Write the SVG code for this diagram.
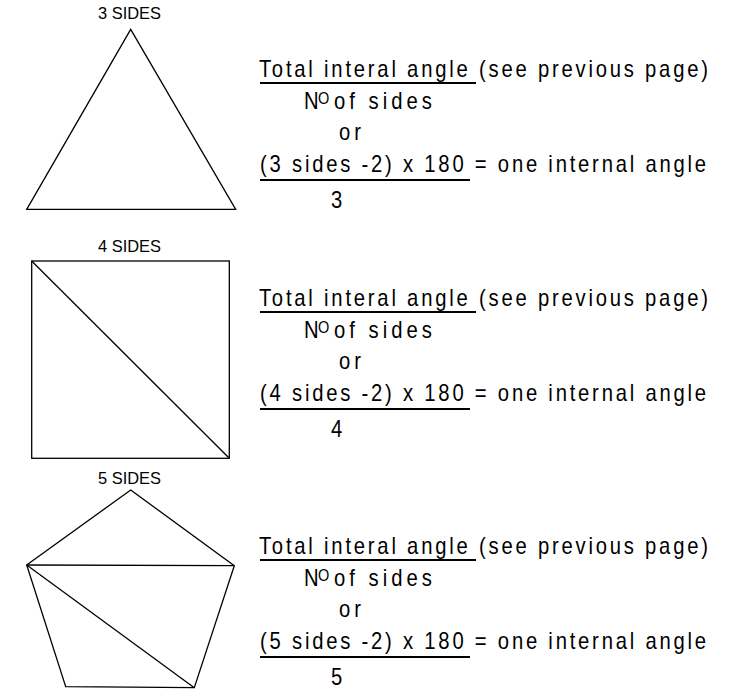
<svg xmlns="http://www.w3.org/2000/svg" width="750" height="698" viewBox="0 0 750 698">
<style>
.shape{fill:none;stroke:#000;stroke-width:1.3;stroke-linejoin:miter}
.t{font-family:"Liberation Sans",Arial,sans-serif;font-size:23px;fill:#000}
.sup{font-size:16.5px}
.lbl{font-family:"Liberation Sans",Arial,sans-serif;font-size:16px;fill:#000}
.ul{stroke:#000;stroke-width:2}
</style>
<rect x="0" y="0" width="750" height="698" fill="#fff"/>

<g id="triangle">
  <text class="lbl" transform="scale(0.8 1)" x="122.5" y="19.5" textLength="78.75" lengthAdjust="spacingAndGlyphs">3 SIDES</text>
  <polygon class="shape" points="130.7,29.3 235.7,209.3 26.7,209.3"/>
</g>

<g id="square">
  <text class="lbl" transform="scale(0.8 1)" x="122.5" y="252.5" textLength="78.75" lengthAdjust="spacingAndGlyphs">4 SIDES</text>
  <rect class="shape" x="31.7" y="261" width="197.6" height="197.3"/>
  <line class="shape" x1="31.7" y1="261" x2="229.3" y2="458.3"/>
</g>

<g id="pentagon">
  <text class="lbl" transform="scale(0.8 1)" x="122.5" y="484.3" textLength="78.75" lengthAdjust="spacingAndGlyphs">5 SIDES</text>
  <polygon class="shape" points="130.7,490 234.3,565.7 194.3,687.7 65.7,686.7 26.7,565"/>
  <line class="shape" x1="26.7" y1="565" x2="234.3" y2="565.7"/>
  <line class="shape" x1="26.7" y1="565" x2="194.3" y2="687.7"/>
</g>

<g id="formula-3">
  <line class="ul" x1="260" y1="83" x2="476" y2="83"/>
  <line class="ul" x1="260" y1="180" x2="470" y2="180"/>
  <g transform="scale(0.88 1)">
    <text class="t" x="294.3" y="77" textLength="510.2" lengthAdjust="spacing">Total interal angle (see previous page)</text>
    <text class="t" x="345.5" y="109.5">N<tspan class="sup" x="361.4" y="104.5">O</tspan></text>
    <text class="t" x="379.5" y="109.5" textLength="111.4" lengthAdjust="spacing">of sides</text>
    <text class="t" x="385.2" y="140" textLength="25" lengthAdjust="spacing">or</text>
    <text class="t" x="295.5" y="172" textLength="506.8" lengthAdjust="spacing">(3 sides -2) x 180 = one internal angle</text>
    <text class="t" x="376" y="208">3</text>
  </g>
</g>

<g id="formula-4" transform="translate(0 229)">
  <line class="ul" x1="260" y1="83" x2="476" y2="83"/>
  <line class="ul" x1="260" y1="180" x2="470" y2="180"/>
  <g transform="scale(0.88 1)">
    <text class="t" x="294.3" y="77" textLength="510.2" lengthAdjust="spacing">Total interal angle (see previous page)</text>
    <text class="t" x="345.5" y="109.5">N<tspan class="sup" x="361.4" y="104.5">O</tspan></text>
    <text class="t" x="379.5" y="109.5" textLength="111.4" lengthAdjust="spacing">of sides</text>
    <text class="t" x="385.2" y="140" textLength="25" lengthAdjust="spacing">or</text>
    <text class="t" x="295.5" y="172" textLength="506.8" lengthAdjust="spacing">(4 sides -2) x 180 = one internal angle</text>
    <text class="t" x="376" y="208">4</text>
  </g>
</g>

<g id="formula-5" transform="translate(0 477)">
  <line class="ul" x1="260" y1="83" x2="476" y2="83"/>
  <line class="ul" x1="260" y1="180" x2="470" y2="180"/>
  <g transform="scale(0.88 1)">
    <text class="t" x="294.3" y="77" textLength="510.2" lengthAdjust="spacing">Total interal angle (see previous page)</text>
    <text class="t" x="345.5" y="109.5">N<tspan class="sup" x="361.4" y="104.5">O</tspan></text>
    <text class="t" x="379.5" y="109.5" textLength="111.4" lengthAdjust="spacing">of sides</text>
    <text class="t" x="385.2" y="140" textLength="25" lengthAdjust="spacing">or</text>
    <text class="t" x="295.5" y="172" textLength="506.8" lengthAdjust="spacing">(5 sides -2) x 180 = one internal angle</text>
    <text class="t" x="376" y="208">5</text>
  </g>
</g>
</svg>
